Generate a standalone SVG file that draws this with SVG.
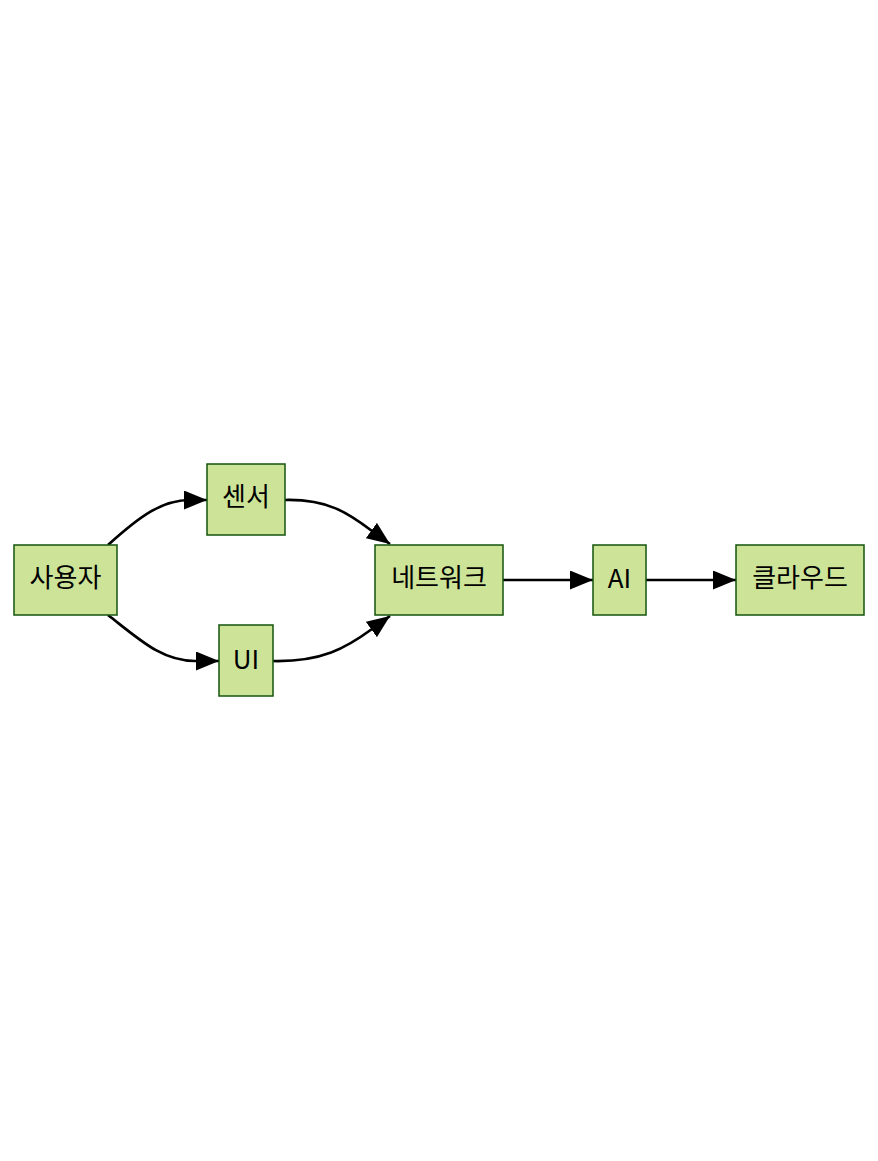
<svg xmlns="http://www.w3.org/2000/svg" width="878" height="1161" viewBox="0 0 878 1161">
<style>
.node rect{fill:#cde498;stroke:#13540c;stroke-width:1.5}
.node text{font-family:"Noto Sans CJK KR","Liberation Sans",sans-serif;font-size:26px;font-weight:400;fill:#000;text-anchor:middle;dominant-baseline:central}
.edge{fill:none;stroke:#000;stroke-width:2.7;marker-end:url(#arrow)}
</style>
<defs>
<marker id="arrow" markerUnits="userSpaceOnUse" markerWidth="23" markerHeight="19" refX="23" refY="9.5" orient="auto">
<path d="M0,0 L23,9.5 L0,19 z" fill="#000"/>
</marker>
</defs>
<rect width="878" height="1161" fill="#fff"/>
<g id="connectors">
<path class="edge" d="M108,545 C140,516 162,500 190,500 L207,500"/>
<path class="edge" d="M108,615 C140,640 162,661 195,661 L219,661"/>
<path class="edge" d="M285,500 C328,499 348,513 372,531 L390,544"/>
<path class="edge" d="M273,661 C322,662 346,648 372,629 L390,616"/>
<path class="edge" d="M503,580 L593,580"/>
<path class="edge" d="M646,580 L736,580"/>
</g>
<g id="user" class="node"><rect x="14" y="545" width="103" height="70"/><text x="65.5" y="575">사용자</text></g>
<g id="sensor" class="node"><rect x="207" y="464" width="78" height="71"/><text x="246" y="494">센서</text></g>
<g id="ui" class="node"><rect x="219" y="625" width="54" height="71"/><text x="246" y="657">UI</text></g>
<g id="network" class="node"><rect x="375" y="545" width="128" height="70"/><text x="439" y="575">네트워크</text></g>
<g id="ai" class="node"><rect x="593" y="545" width="53" height="70"/><text x="619.5" y="576">AI</text></g>
<g id="cloud" class="node"><rect x="736" y="545" width="128" height="70"/><text x="800" y="575">클라우드</text></g>
</svg>
